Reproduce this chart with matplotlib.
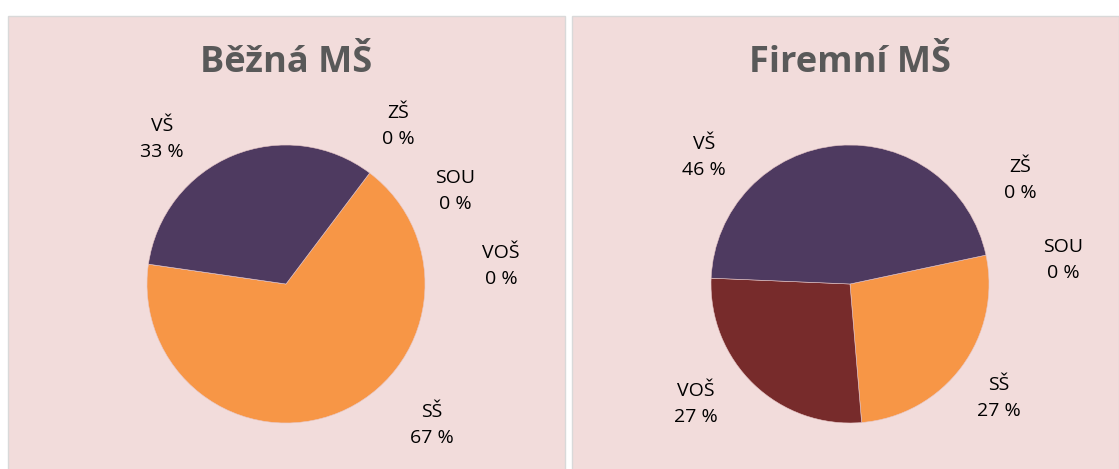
import matplotlib
matplotlib.use("Agg")
import matplotlib.pyplot as plt
from matplotlib.patches import Rectangle

categories = ["ZŠ", "SOU", "SŠ", "VOŠ", "VŠ"]
bezna_values = [0, 0, 67, 0, 33]
firemni_values = [0, 0, 27, 27, 46]
titles = ["Běžná MŠ", "Firemní MŠ"]
colors = ["#4BACC6", "#9BBB59", "#F79646", "#772B2B", "#4E3A60"]

W, H = 1119, 469
fig = plt.figure(figsize=(W / 100, H / 100), dpi=100)
fig.patch.set_facecolor("white")
ax = fig.add_axes([0, 0, 1, 1])
ax.set_xlim(0, W)
ax.set_ylim(0, H)
ax.set_aspect("equal")
ax.axis("off")

def Y(y):
    return H - y

FONT = "Open Sans"
panels = [(7.5, 565), (571.5, 1119)]
centers = [(286, 284), (850, 284)]
radius = 139
start_cw = [37.0, 78.0]
label_pos = [
    {"ZŠ": (398, 126), "SOU": (455, 191), "SŠ": (432, 425), "VOŠ": (501, 266), "VŠ": (162, 139)},
    {"ZŠ": (1020, 180), "SOU": (1063, 260), "SŠ": (999, 398), "VOŠ": (696, 404), "VŠ": (704, 157)},
]
title_pos = [(286, 63), (850, 63)]

for i, values in enumerate([bezna_values, firemni_values]):
    x0, x1 = panels[i]
    ax.add_patch(Rectangle((x0, Y(H + 2)), x1 - x0, H + 2 - 15.5, facecolor="#F2DCDB",
                           edgecolor="#D9D9D9", linewidth=1.0, zorder=0))
    ax.pie(values, colors=colors, center=(centers[i][0], Y(centers[i][1])), radius=radius,
           startangle=90 - start_cw[i], counterclock=False,
           wedgeprops=dict(linewidth=0.4, edgecolor="#E8C8C8"), frame=True)
    total = sum(values)
    for cat, v in zip(categories, values):
        lx, ly = label_pos[i][cat]
        ax.text(lx, Y(ly), f"{cat}\n{round(100 * v / total)} %", ha="center", va="center",
                fontsize=14, family=FONT, color="#000000", linespacing=1.6)
    ax.text(title_pos[i][0], Y(title_pos[i][1]), titles[i], ha="center", va="center",
            fontsize=26, fontweight="bold", family=FONT, color="#595959")

ax.set_xlim(0, W)
ax.set_ylim(0, H)
ax.axis("off")
fig.savefig("out.png", dpi=100, facecolor="white")
